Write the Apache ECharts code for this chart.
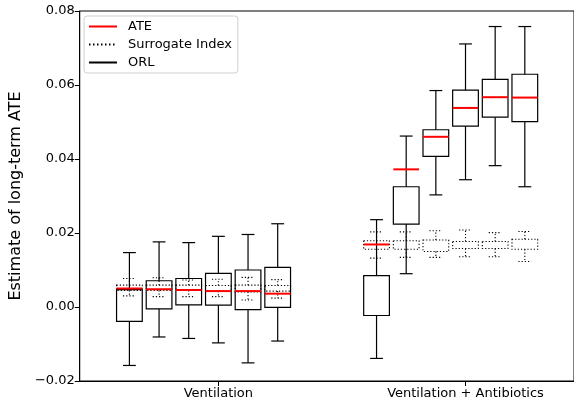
<!DOCTYPE html>
<html>
<head>
<meta charset="utf-8">
<script src="https://cdn.jsdelivr.net/npm/echarts@6/dist/echarts.min.js"></script>
<style>
html,body{margin:0;padding:0;background:#fff;}
#main{width:574px;height:402px;}
</style>
</head>
<body>
<div id="main"></div>
<script>
// ---- data ----
const groupLabels = ['Ventilation', 'Ventilation + Antibiotics'];
const boxOffsets = [-0.36, -0.24, -0.12, 0, 0.12, 0.24];
const yTicks = [-0.02, 0.00, 0.02, 0.04, 0.06, 0.08];

// ORL boxes: [whisker low, q1, q3, whisker high]
const orlVentilation = [
  [-0.0158, -0.0039, 0.0047, 0.0147],
  [-0.0081, -0.0005, 0.0071, 0.0176],
  [-0.0085,  0.0006, 0.0077, 0.0174],
  [-0.0097,  0.0005, 0.0091, 0.0191],
  [-0.0151, -0.0007, 0.0100, 0.0196],
  [-0.0092, -0.0001, 0.0107, 0.0225]
];
const orlAntibiotics = [
  [-0.0139, -0.0023, 0.0085, 0.0236],
  [ 0.0090,  0.0224, 0.0325, 0.0462],
  [ 0.0303,  0.0407, 0.0479, 0.0585],
  [ 0.0344,  0.0489, 0.0586, 0.0711],
  [ 0.0382,  0.0513, 0.0615, 0.0758],
  [ 0.0325,  0.0501, 0.0629, 0.0758]
];
// Surrogate index boxes: [whisker low, q1, q3, whisker high]
const siVentilation = [
  [0.0030, 0.0045, 0.0059, 0.0077],
  [0.0028, 0.0045, 0.0059, 0.0079],
  [0.0028, 0.0045, 0.0059, 0.0073],
  [0.0028, 0.0043, 0.0058, 0.0075],
  [0.0019, 0.0041, 0.0059, 0.0080],
  [0.0024, 0.0043, 0.0058, 0.0074]
];
const siAntibiotics = [
  [0.0132, 0.0156, 0.0179, 0.0203],
  [0.0134, 0.0156, 0.0179, 0.0203],
  [0.0134, 0.0150, 0.0181, 0.0206],
  [0.0136, 0.0158, 0.0177, 0.0208],
  [0.0136, 0.0158, 0.0177, 0.0201],
  [0.0123, 0.0156, 0.0183, 0.0204]
];
// ATE values
const ateVentilation = [0.0050, 0.0048, 0.0046, 0.0043, 0.0043, 0.0036];
const ateAntibiotics = [0.0169, 0.0372, 0.0460, 0.0538, 0.0567, 0.0566];

// ---- build series data ----
function boxData(groups) {
  const out = [];
  groups.forEach((g, gi) => g.forEach((s, k) => out.push([gi + boxOffsets[k]].concat(s))));
  return out;
}
function ateData(groups) {
  const out = [];
  groups.forEach((g, gi) => g.forEach((v, k) => out.push([gi + boxOffsets[k], v])));
  return out;
}
const orlData = boxData([orlVentilation, orlAntibiotics]);
const siData = boxData([siVentilation, siAntibiotics]);
const ateMarks = ateData([ateVentilation, ateAntibiotics]);

const BOX_W = 0.104;
const FONT = 'DejaVu Sans';

function boxRenderer(dash, lw) {
  return function (params, api) {
    const x = api.value(0);
    const lo = api.value(1), q1 = api.value(2), q3 = api.value(3), hi = api.value(4);
    const pL = api.coord([x - BOX_W / 2, q3]);
    const pR = api.coord([x + BOX_W / 2, q1]);
    const cL = api.coord([x - BOX_W / 4, lo])[0];
    const cR = api.coord([x + BOX_W / 4, lo])[0];
    const cx = api.coord([x, lo])[0];
    const yLo = api.coord([x, lo])[1];
    const yHi = api.coord([x, hi])[1];
    const style = { stroke: '#000', lineWidth: lw, fill: null, lineDash: dash };
    return {
      type: 'group',
      children: [
        { type: 'rect', shape: { x: pL[0], y: pL[1], width: pR[0] - pL[0], height: pR[1] - pL[1] }, style: style },
        { type: 'line', shape: { x1: cx, y1: pL[1], x2: cx, y2: yHi }, style: style },
        { type: 'line', shape: { x1: cx, y1: pR[1], x2: cx, y2: yLo }, style: style },
        { type: 'line', shape: { x1: cL, y1: yHi, x2: cR, y2: yHi }, style: style },
        { type: 'line', shape: { x1: cL, y1: yLo, x2: cR, y2: yLo }, style: style }
      ]
    };
  };
}

function ateRenderer(params, api) {
  const x = api.value(0), v = api.value(1);
  const a = api.coord([x - BOX_W / 2, v]);
  const b = api.coord([x + BOX_W / 2, v]);
  return { type: 'line', shape: { x1: a[0], y1: a[1], x2: b[0], y2: b[1] }, style: { stroke: '#ff0000', lineWidth: 2 } };
}

const chart = echarts.init(document.getElementById('main'), null, { renderer: 'canvas' });
const option = {
  animation: false,
  backgroundColor: '#fff',
  textStyle: { fontFamily: FONT },
  grid: { left: 77, top: 11, width: 498, height: 370, show: true, borderColor: '#000', borderWidth: 1, backgroundColor: 'transparent' },
  legend: {
    orient: 'vertical',
    left: 84, top: 16,
    data: ['ATE', 'Surrogate Index', 'ORL'],
    itemWidth: 28, itemHeight: 14, itemGap: 5,
    padding: [4, 6, 4, 4],
    backgroundColor: '#fff',
    borderColor: '#d0d0d0', borderWidth: 1, borderRadius: 3,
    textStyle: { fontFamily: FONT, fontSize: 13, color: '#000', padding: [0, 0, 0, 6] }
  },
  xAxis: {
    type: 'value',
    min: -0.561, max: 1.439,
    splitLine: { show: false },
    axisLine: { show: true, onZero: false, lineStyle: { color: '#000', width: 1 } },
    axisTick: { show: true, customValues: [0, 1], length: 5, lineStyle: { color: '#000' } },
    axisLabel: {
      customValues: [0, 1],
      formatter: v => groupLabels[Math.round(v)] || '',
      fontFamily: FONT, fontSize: 13, color: '#000', margin: 6
    }
  },
  yAxis: {
    type: 'value',
    min: yTicks[0], max: yTicks[yTicks.length - 1], interval: 0.02,
    splitLine: { show: false },
    axisLine: { show: true, onZero: false, lineStyle: { color: '#000', width: 1 } },
    axisTick: { show: true, length: 5, lineStyle: { color: '#000' } },
    axisLabel: {
      fontFamily: FONT, fontSize: 13, color: '#000', margin: 5,
      formatter: v => (v < 0 ? '\u2212' : '') + Math.abs(v).toFixed(2)
    },
    name: 'Estimate of long-term ATE',
    nameLocation: 'middle', nameGap: 50,
    nameTextStyle: { fontFamily: FONT, fontSize: 16, color: '#000' }
  },
  series: [
    { name: 'orlBoxes', type: 'custom', renderItem: boxRenderer(null, 1.2), data: orlData, z: 2 },
    { name: 'siBoxes', type: 'custom', renderItem: boxRenderer([1.2, 2], 1.1), data: siData, z: 3 },
    { name: 'ateMarks', type: 'custom', renderItem: ateRenderer, data: ateMarks, z: 4 },
    { name: 'ATE', type: 'line', data: [], symbol: 'none', lineStyle: { color: '#ff0000', width: 1.5 }, itemStyle: { color: '#ff0000', opacity: 0 } },
    { name: 'Surrogate Index', type: 'line', data: [], symbol: 'none', lineStyle: { color: '#000', width: 1.5, type: [1.5, 2.5] }, itemStyle: { color: '#000', opacity: 0 } },
    { name: 'ORL', type: 'line', data: [], symbol: 'none', lineStyle: { color: '#000', width: 1.5 }, itemStyle: { color: '#000', opacity: 0 } }
  ]
};
chart.setOption(option);
</script>
</body>
</html>
